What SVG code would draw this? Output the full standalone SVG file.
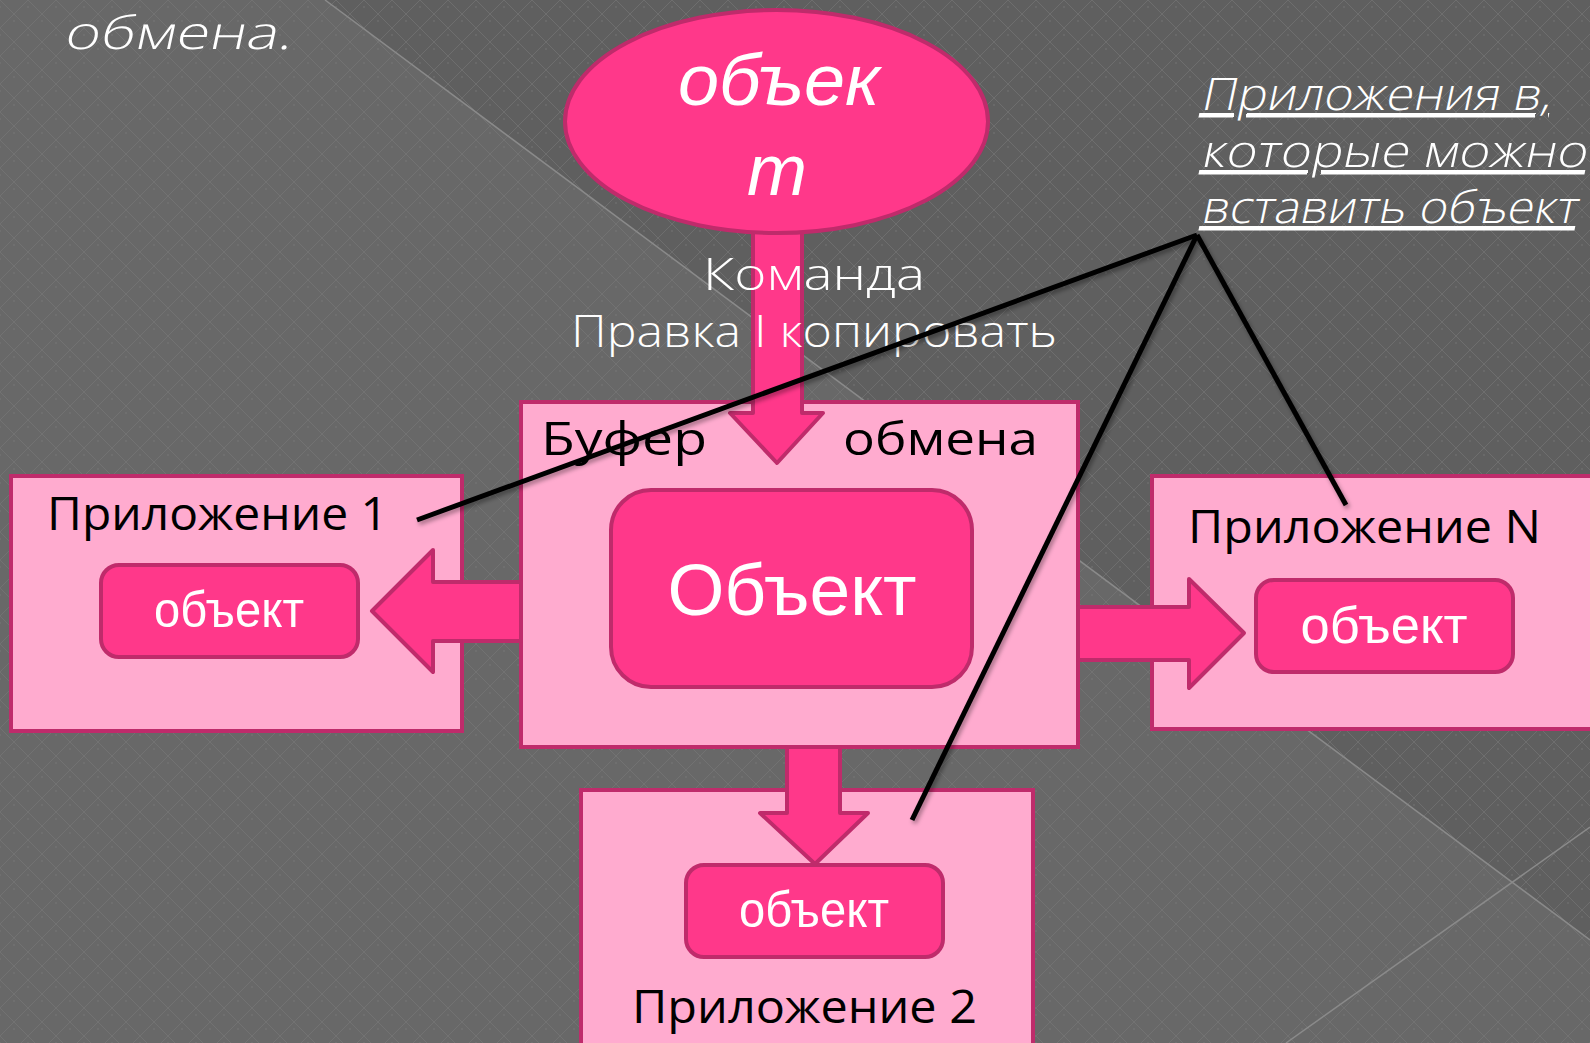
<svg xmlns="http://www.w3.org/2000/svg" width="1590" height="1043" viewBox="0 0 1590 1043">
<defs>
<pattern id="lattice" width="28" height="28" patternUnits="userSpaceOnUse">
<path d="M0,0 L28,28 M28,0 L0,28" stroke="#7a7a7a" stroke-width="1" opacity="0.55"/>
<circle cx="14" cy="21" r="1" fill="#7a7a7a" opacity="0.5"/>
<circle cx="0" cy="7" r="1" fill="#7a7a7a" opacity="0.5"/>
<circle cx="28" cy="7" r="1" fill="#7a7a7a" opacity="0.5"/>
</pattern>
<filter id="sh" x="-10%" y="-10%" width="120%" height="120%">
<feDropShadow dx="2" dy="3" stdDeviation="2" flood-color="#000" flood-opacity="0.35"/>
</filter>
</defs>
<style>
.box{fill:#ffabcf;stroke:#bf2b6b;stroke-width:4}
.hot{fill:#ff388a;stroke:#bf2b6b;stroke-width:4;stroke-linejoin:round}
.arrow{fill:#ff388a;stroke:#bf2b6b;stroke-width:4;stroke-linejoin:round}
.lbl{font-family:"Open Sans","Liberation Sans",sans-serif;fill:#000;font-size:46px}
.wl{font-family:"Open Sans","Liberation Sans",sans-serif;fill:#fff;font-weight:300}
.obj{font-family:"Liberation Sans",Arial,sans-serif;fill:#fff}
.ptr{stroke:#000;stroke-width:5;fill:none;stroke-linecap:butt}
</style>
<!-- background -->
<rect x="0" y="0" width="1590" height="1043" fill="#686868"/>
<polygon points="325,0 1590,0 1590,940" fill="#5f5f5f"/>
<rect x="0" y="0" width="1590" height="1043" fill="url(#lattice)"/>
<line x1="325" y1="0" x2="1590" y2="940" stroke="#8a8a8a" stroke-width="1.5"/>
<line x1="1286" y1="1043" x2="1590" y2="827" stroke="#8a8a8a" stroke-width="1.5"/>

<text class="wl" transform="translate(63,49) skewX(-12)" x="0" y="0" font-size="46" textLength="228" lengthAdjust="spacingAndGlyphs">обмена.</text>

<g id="note">
<text class="wl" transform="translate(1200,110) skewX(-12)" x="0" y="0" font-size="45" text-decoration="underline" textLength="350" lengthAdjust="spacingAndGlyphs">Приложения в,</text>
<text class="wl" transform="translate(1200,167) skewX(-12)" x="0" y="0" font-size="45" text-decoration="underline" textLength="386" lengthAdjust="spacingAndGlyphs">которые можно</text>
<text class="wl" transform="translate(1200,223) skewX(-12)" x="0" y="0" font-size="45" text-decoration="underline" textLength="376" lengthAdjust="spacingAndGlyphs">вставить объект</text>
</g>

<g id="app1">
<rect class="box" x="11" y="476" width="451" height="255"/>
<text class="lbl" x="47" y="530" textLength="341" lengthAdjust="spacingAndGlyphs">Приложение 1</text>
<rect class="hot" x="101" y="565" width="257" height="92" rx="18"/>
<text class="obj" x="229" y="627" font-size="50" text-anchor="middle" textLength="150" lengthAdjust="spacingAndGlyphs">объект</text>
</g>

<g id="appN">
<rect class="box" x="1152" y="476" width="460" height="253"/>
<text class="lbl" x="1188" y="543" textLength="353" lengthAdjust="spacingAndGlyphs">Приложение N</text>
<rect class="hot" x="1256" y="580" width="257" height="92" rx="18"/>
<text class="obj" x="1384" y="643" font-size="52" text-anchor="middle" textLength="167" lengthAdjust="spacingAndGlyphs">объект</text>
</g>

<g id="app2">
<rect class="box" x="581" y="790" width="452" height="280"/>
<rect class="hot" x="686" y="865" width="257" height="92" rx="18"/>
<text class="obj" x="814" y="927" font-size="50" text-anchor="middle" textLength="150" lengthAdjust="spacingAndGlyphs">объект</text>
<text class="lbl" x="632" y="1023" textLength="345" lengthAdjust="spacingAndGlyphs">Приложение 2</text>
</g>

<g id="buffer">
<rect class="box" x="521" y="402" width="557" height="345"/>
<text class="lbl" x="541" y="455" textLength="166" lengthAdjust="spacingAndGlyphs">Буфер</text>
<text class="lbl" x="843" y="455" textLength="195" lengthAdjust="spacingAndGlyphs">обмена</text>
<rect class="hot" x="611" y="490" width="361" height="197" rx="40"/>
<text class="obj" x="792" y="615" font-size="73" text-anchor="middle" textLength="249" lengthAdjust="spacingAndGlyphs">Объект</text>
</g>

<g id="connectors">
<path class="arrow" d="M753,226 L802,226 L802,413 L823,413 L777,463 L730,413 L753,413 Z"/>
<path class="arrow" d="M521,582 L433,582 L433,550 L372,611 L433,672 L433,641 L521,641 Z"/>
<path class="arrow" d="M1078,607 L1189,607 L1189,579 L1244,633 L1189,688 L1189,660 L1078,660 Z"/>
<path class="arrow" d="M787,747 L840,747 L840,813 L868,813 L815,864 L760,813 L787,813 Z"/>
<g id="label-command">
<text class="wl" x="814" y="290" font-size="44" text-anchor="middle" textLength="222" lengthAdjust="spacingAndGlyphs">Команда</text>
<text class="wl" x="814" y="347" font-size="44" text-anchor="middle" textLength="486" lengthAdjust="spacingAndGlyphs">Правка I копировать</text>
</g>
<g filter="url(#sh)">
<line class="ptr" x1="1197" y1="235" x2="417" y2="520"/>
<line class="ptr" x1="1197" y1="235" x2="912" y2="820"/>
<line class="ptr" x1="1197" y1="235" x2="1346" y2="505"/>
</g>
</g>

<g id="ellipse-object">
<ellipse class="hot" cx="776.5" cy="121.5" rx="211.5" ry="111.5"/>
<text class="obj" x="779" y="105" font-size="72" font-style="italic" text-anchor="middle" textLength="202" lengthAdjust="spacingAndGlyphs">объек</text>
<text class="obj" x="777" y="195" font-size="72" font-style="italic" text-anchor="middle">т</text>
</g>
</svg>
